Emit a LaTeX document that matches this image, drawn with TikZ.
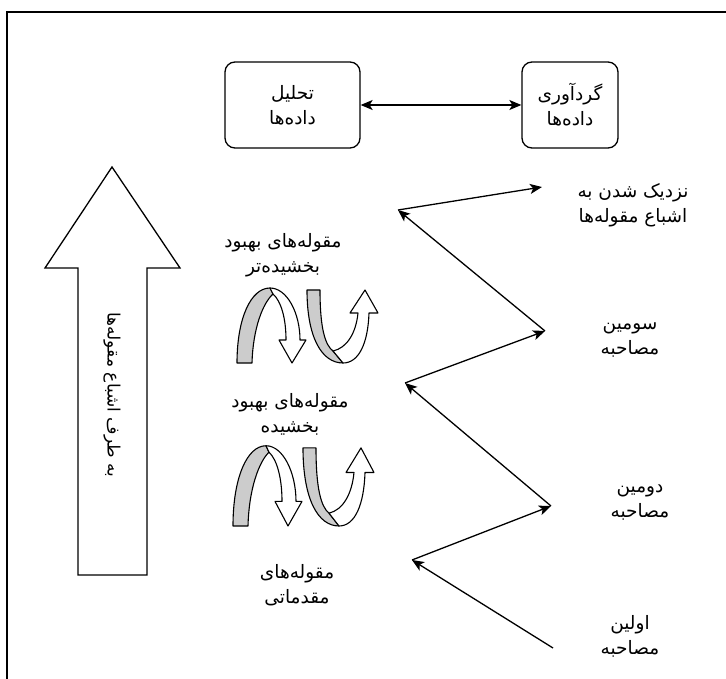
\documentclass[tikz,border=0pt]{standalone}
\usepackage{fontspec}
\newfontfamily\arabicfont[Script=Arabic]{DejaVu Sans}
\TeXXeTstate=1
\usetikzlibrary{arrows.meta}
\newcommand{\fatxt}[1]{\beginR #1\endR}
\begin{document}
\begin{tikzpicture}[x=1pt,y=-1pt,
  lbl/.style={font=\arabicfont\fontsize{18.5}{25}\selectfont, align=center, inner sep=0pt},
  box/.style={draw, line width=1.3pt, rounded corners=10pt, lbl},
  conn/.style={line width=1.3pt, -{Stealth[length=12pt,width=10pt,inset=3pt]}},
  dconn/.style={line width=1.3pt, {Stealth[length=12pt,width=10pt,inset=3pt]}-{Stealth[length=12pt,width=10pt,inset=3pt]}},
  iconline/.style={draw, line width=1.1pt, line join=round},
  uturns/.pic={
    \draw[iconline, fill=gray!40] (0,0) .. controls (0,-45) and (14,-75) .. (33,-75) -- (36,-69) .. controls (26,-60) and (16,-35) .. (15,0) -- cycle;
    \draw[iconline, fill=white] (33,-75) .. controls (50,-75) and (63,-50) .. (63,-23) -- (69,-23) -- (55,0) -- (42,-23) -- (49,-23) .. controls (49,-45) and (44,-62) .. (36,-69) -- cycle;
    \draw[iconline, fill=gray!40] (70,-73) -- (83,-73) .. controls (83,-35) and (88,-18) .. (96,-12) -- (106,0) .. controls (85,0) and (70,-25) .. (70,-73) -- cycle;
    \draw[iconline, fill=white] (106,0) .. controls (122,0) and (131,-20) .. (132,-50) -- (141,-50) -- (128,-73) -- (113,-50) -- (121,-50) .. controls (119,-30) and (110,-15) .. (96,-12) -- cycle;
  }
]
\useasboundingbox (0,0) rectangle (726,679);
% frame
\draw[line width=1.6pt] (7,690) -- (7,12) -- (740,12);

% top boxes
\node[box, minimum width=135pt, minimum height=86pt] (anal) at (292.5,105) {\fatxt{تحلیل}\\\fatxt{داده‌ها}};
\node[box, minimum width=96pt, minimum height=86pt] (coll) at (570,105) {\fatxt{گردآوری}\\\fatxt{داده‌ها}};
\draw[dconn] (anal) -- (coll);

% big up arrow
\draw[line width=1.3pt, fill=white] (78,575) -- (78,268) -- (45,268) -- (112,167) -- (180,268) -- (147,268) -- (147,575) -- cycle;
\node[lbl, font=\arabicfont\fontsize{17}{22}\selectfont, rotate=-90] (sat) at (112,395) {\fatxt{به طرف اشباع مقوله‌ها}};

% u-turn icons
\pic at (237,363) {uturns};
\pic[yscale=1.07] at (233,526) {uturns};

% left labels
\node[lbl] (cat3) at (283,255) {\fatxt{مقوله‌های بهبود}\\\fatxt{بخشیده‌تر}};
\node[lbl] (cat2) at (290,414) {\fatxt{مقوله‌های بهبود}\\\fatxt{بخشیده}};
\node[lbl] (cat1) at (297,585) {\fatxt{مقوله‌های}\\\fatxt{مقدماتی}};

% right labels
\node[lbl] (int4) at (633,205) {\fatxt{نزدیک شدن به}\\\fatxt{اشباع مقوله‌ها}};
\node[lbl] (int3) at (630,340) {\fatxt{سومین}\\\fatxt{مصاحبه}};
\node[lbl] (int2) at (640,503) {\fatxt{دومین}\\\fatxt{مصاحبه}};
\node[lbl] (int1) at (630,636) {\fatxt{اولین}\\\fatxt{مصاحبه}};

% zigzag
\coordinate (R4) at (542,187);
\coordinate (A1) at (398,210);
\coordinate (R3) at (545,331);
\coordinate (A2) at (405,383);
\coordinate (R2) at (551,506);
\coordinate (A3) at (412,560);
\coordinate (R1) at (553,648);
\draw[conn] (R1) -- (A3);
\draw[conn] (A3) -- (R2);
\draw[conn] (R2) -- (A2);
\draw[conn] (A2) -- (R3);
\draw[conn] (R3) -- (A1);
\draw[conn] (A1) -- (R4);
\end{tikzpicture}
\end{document}
